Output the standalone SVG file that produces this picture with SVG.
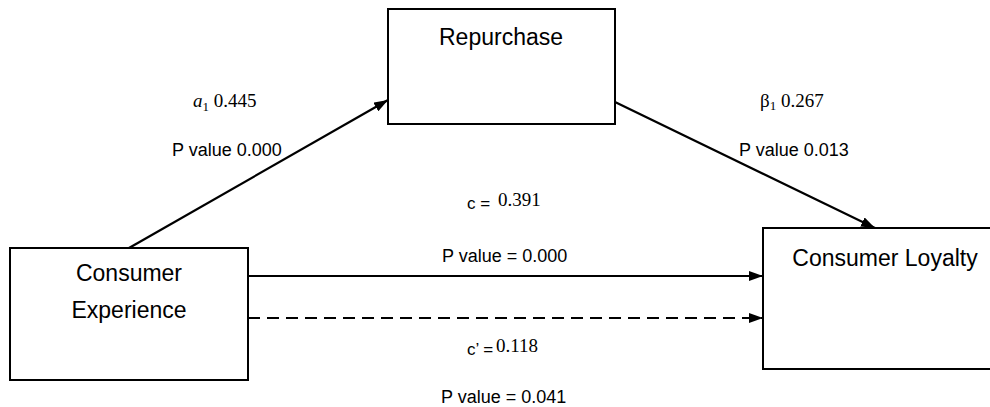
<svg xmlns="http://www.w3.org/2000/svg" width="990" height="407" viewBox="0 0 990 407">
<style>
.box{fill:#fff;stroke:#000;stroke-width:2}
.lbl{font-family:"Liberation Sans",Arial,sans-serif;fill:#000}
.num{font-family:"Liberation Serif","Times New Roman",serif;fill:#000}
.ln{stroke:#000;stroke-width:2.2;fill:none}
</style>
<defs>
<marker id="ah" viewBox="0 0 14 10" refX="14" refY="5" markerWidth="14" markerHeight="10" markerUnits="userSpaceOnUse" orient="auto">
<path d="M0,0 L14,5 L0,10 Z" fill="#000"/>
</marker>
</defs>
<rect width="990" height="407" fill="#fff"/>
<g id="connectors">
<line class="ln" x1="129" y1="248" x2="388" y2="100" marker-end="url(#ah)"/>
<line class="ln" x1="615" y1="102" x2="875" y2="228" marker-end="url(#ah)"/>
<line class="ln" x1="248" y1="276" x2="763" y2="276" marker-end="url(#ah)"/>
<line class="ln" x1="248" y1="318" x2="763" y2="318" stroke-dasharray="12,7" marker-end="url(#ah)"/>
</g>
<g id="repurchase">
<rect class="box" x="388" y="9" width="227" height="115"/>
<text class="lbl" x="501" y="45" font-size="23" text-anchor="middle">Repurchase</text>
</g>
<g id="experience">
<rect class="box" x="10" y="248" width="238" height="132"/>
<text class="lbl" x="129" y="281" font-size="23" text-anchor="middle">Consumer</text>
<text class="lbl" x="129" y="318" font-size="23" text-anchor="middle">Experience</text>
</g>
<g id="loyalty">
<rect class="box" x="763" y="228" width="240" height="141"/>
<text class="lbl" x="885" y="266" font-size="23" text-anchor="middle">Consumer Loyalty</text>
</g>
<g id="labels">
<text class="num" x="193" y="107" font-size="19"><tspan font-style="italic">a</tspan><tspan font-size="13" dy="4">1</tspan><tspan dy="-4"> 0.445</tspan></text>
<text class="lbl" x="172" y="156" font-size="18">P value 0.000</text>
<text class="num" x="760" y="107" font-size="19">β<tspan font-size="13" dy="3">1</tspan><tspan dy="-3"> 0.267</tspan></text>
<text class="lbl" x="739" y="156" font-size="18">P value 0.013</text>
<text class="lbl" x="467" y="209" font-size="17">c =</text>
<text class="num" x="498" y="206" font-size="19">0.391</text>
<text class="lbl" x="442" y="262" font-size="18">P value = 0.000</text>
<text class="lbl" x="467" y="355" font-size="17">c’ =</text>
<text class="num" x="496" y="352" font-size="19">0.118</text>
<text class="lbl" x="441" y="403" font-size="18">P value = 0.041</text>
</g>
</svg>
